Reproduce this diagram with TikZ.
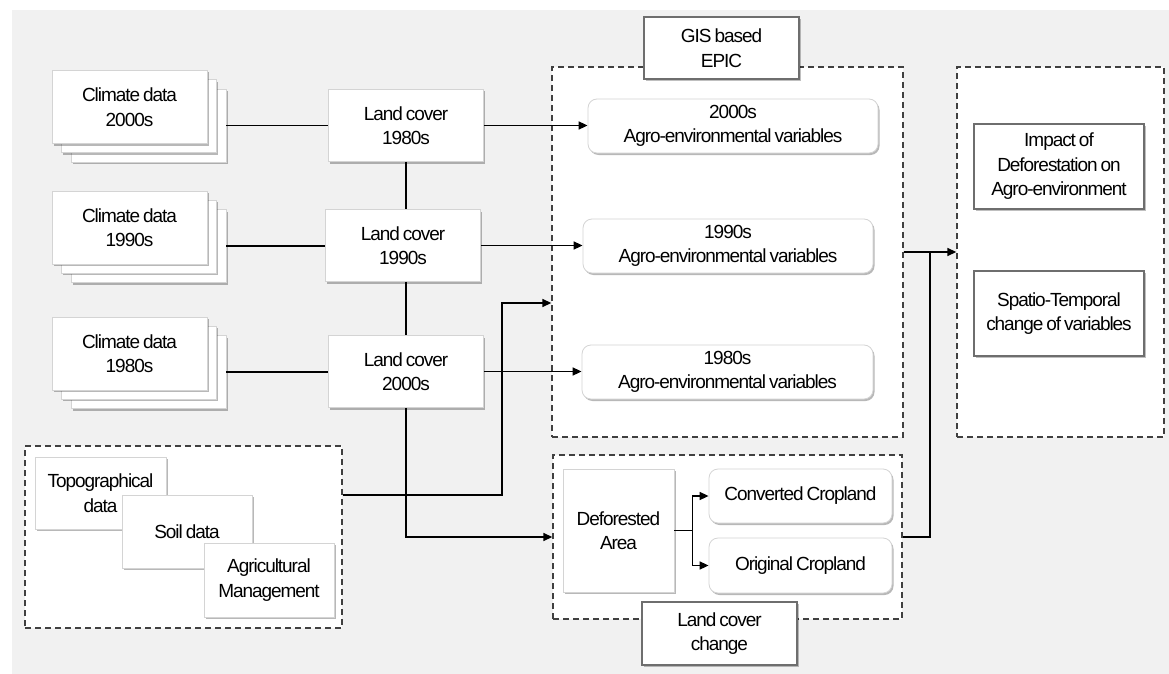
\documentclass[tikz,border=0pt]{standalone}
\usepackage{fontspec}
\newfontfamily\labf[LetterSpace=-5.5,WordSpace=0.7]{Liberation Sans}
\usetikzlibrary{shadows,arrows.meta,calc}
\definecolor{bggray}{HTML}{F1F1F1}
\definecolor{lightedge}{HTML}{D4D4D4}
\definecolor{darkedge}{HTML}{6E6E6E}
\definecolor{dashgray}{HTML}{404040}
\tikzset{
  txt/.style={font=\labf\fontsize{19}{24.5}\selectfont, align=center, inner sep=0pt, text=black},
  plainbox/.style={txt, draw=lightedge, line width=0.8pt, fill=white,
     drop shadow={shadow xshift=1.5pt, shadow yshift=-2pt, fill=black, opacity=0.28}},
  labelbox/.style={txt, draw=darkedge, line width=1.3pt, fill=white,
     drop shadow={shadow xshift=1.5pt, shadow yshift=-2pt, fill=black, opacity=0.25}},
  roundbox/.style={plainbox, rounded corners=9pt},
  groupbox/.style={draw=dashgray, line width=1.4pt, dash pattern=on 6pt off 4pt, fill=white, inner sep=0pt},
  conn/.style={line width=1.6pt, draw=black},
  arr/.style={conn, -{Triangle[length=9pt,width=8pt]}},
}
\begin{document}
\begin{tikzpicture}[x=1pt,y=-1pt]
\useasboundingbox (0,0) rectangle (1169,674);
\fill[bggray] (12,10) rectangle (1169,674);

% dashed groups
\node[groupbox, minimum width=351, minimum height=370] (epic) at (727.5,252) {};
\node[groupbox, minimum width=207, minimum height=370] (right) at (1060.5,252) {};
\node[groupbox, minimum width=317, minimum height=182] (tgroup) at (183.5,537) {};
\node[groupbox, minimum width=349, minimum height=164] (lcc) at (727.5,537) {};

% climate stacks
\foreach \r/\yy/\lab in {1/125.5/2000s, 2/246/1990s, 3/372/1980s}{
  \node[plainbox, minimum width=155, minimum height=73] (clim\r c) at (148.5,\yy) {};
  \node[plainbox, minimum width=155, minimum height=73] (clim\r b) at (139,\yy-9.25) {};
  \node[plainbox, minimum width=155, minimum height=73] (clim\r a) at (129.5,\yy-18.5) {Climate data\\\lab};
}

% land cover
\node[plainbox, minimum width=155, minimum height=72] (land1) at (406,125.5) {Land cover\\1980s};
\node[plainbox, minimum width=155, minimum height=72] (land2) at (403,245.5) {Land cover\\1990s};
\node[plainbox, minimum width=155, minimum height=72] (land3) at (406,371.5) {Land cover\\2000s};

% agro boxes
\node[roundbox, minimum width=290, minimum height=54] (agro1) at (733,126) {2000s\\Agro-environmental variables};
\node[roundbox, minimum width=290, minimum height=54] (agro2) at (728,246) {1990s\\Agro-environmental variables};
\node[roundbox, minimum width=291, minimum height=54] (agro3) at (727.5,372) {1980s\\Agro-environmental variables};

% labels
\node[labelbox, minimum width=155, minimum height=62] (gis) at (721.5,48) {GIS based\\EPIC};
\node[labelbox, minimum width=170, minimum height=85] (impact) at (1059,166.5) {Impact of\\Deforestation on\\Agro-environment};
\node[labelbox, minimum width=170, minimum height=85] (spatio) at (1059,313.5) {Spatio-Temporal\\change of variables};

% topo group
\node[plainbox, minimum width=131, minimum height=72] (topo) at (100.5,493) {Topographical\\data};
\node[plainbox, minimum width=130, minimum height=73] (soil) at (187,531.5) {Soil data};
\node[plainbox, minimum width=130, minimum height=74] (agri) at (269,580) {Agricultural\\Management};

% land cover change group
\node[plainbox, minimum width=111, minimum height=123] (def) at (618.5,530.5) {Deforested\\Area};
\node[roundbox, minimum width=183, minimum height=54] (conv) at (800.5,496) {Converted Cropland};
\node[roundbox, minimum width=183, minimum height=55] (orig) at (800.5,565.5) {Original Cropland};
\node[labelbox, minimum width=155, minimum height=63] (lcclab) at (719.5,633.5) {Land cover\\change};

% connectors
\foreach \r in {1,2,3}{
  \draw[conn] (clim\r c.east) -- (clim\r c.east -| land\r.west);
}
\draw[conn] (land1.south) -- (land1.south |- land2.north);
\draw[conn] (land2.south -| land1.south) -- (land1.south |- land3.north);
\draw[arr] (land3.south) |- (lcc.west);
\foreach \r in {1,2,3}{
  \draw[arr] (land\r.east) -- (land\r.east -| agro\r.west);
}
\coordinate (tj) at (502,303);
\draw[arr] ([yshift=42pt]tgroup.east) -| (tj) -- (tj -| epic.west);
\coordinate (fork) at ($(def.east)+(18,0)$);
\draw[arr] (def.east) -- (fork) |- (conv.west);
\draw[arr] (fork) |- (orig.west);
\draw[arr] (epic.east) -- (right.west);
\coordinate (rj) at ($(epic.east)!0.5!(right.west)$);
\draw[conn] (lcc.east) -| (rj);
\end{tikzpicture}
\end{document}
